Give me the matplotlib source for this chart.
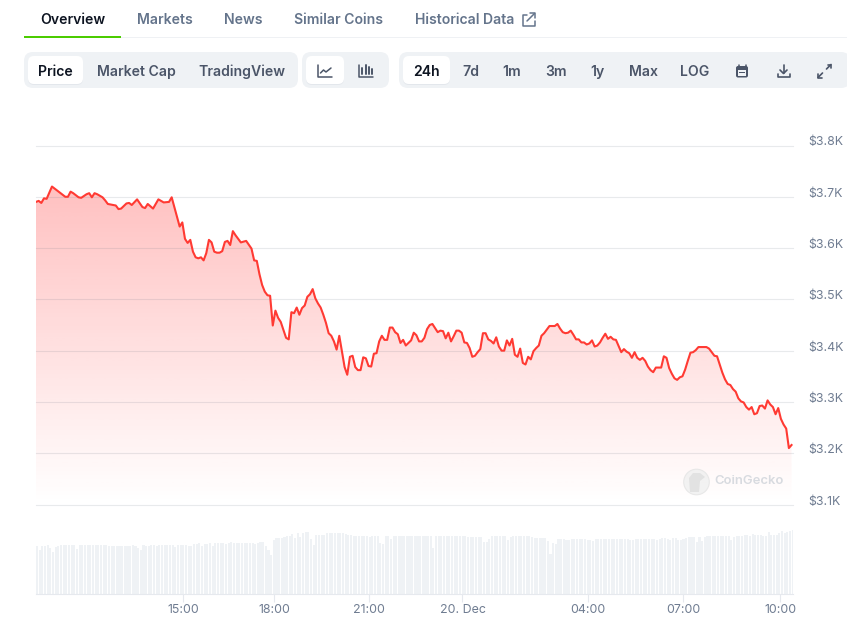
import numpy as np
import matplotlib
import matplotlib.pyplot as plt
from matplotlib.patches import FancyBboxPatch, Circle, Rectangle, Polygon
from matplotlib.transforms import ScaledTranslation

matplotlib.use('Agg')
plt.rcParams['font.family'] = ['Inter', 'DejaVu Sans']

# sample index (one sample = one volume bar) and price in USD
price_idx = [0, 1, 2, 3, 4, 6, 8, 9, 11, 12, 13, 14, 16, 17, 19, 20, 21, 22, 23, 25, 26, 27, 30, 31, 32,
             34, 35, 36, 38, 40, 41, 42, 44, 46, 48, 50, 51, 54, 55, 56, 57, 58, 59, 60, 61, 62, 63, 64,
             65, 66, 67, 68, 69, 70, 71, 72, 73, 74, 75, 77, 79, 81, 82, 83, 84, 85, 86, 87, 88, 89, 90,
             91, 92, 94, 95] + list(range(96, 285))
price_usd = [3690, 3692, 3688, 3697, 3696, 3720, 3712, 3708, 3700, 3700, 3710, 3707, 3699, 3698, 3705,
             3707, 3699, 3707, 3705, 3699, 3693, 3686, 3683, 3676, 3677, 3687, 3688, 3684, 3695, 3680,
             3678, 3686, 3677, 3695, 3689, 3690, 3699, 3642, 3650, 3618, 3610, 3616, 3593, 3582, 3580,
             3582, 3576, 3590, 3616, 3611, 3593, 3591, 3591, 3594, 3612, 3614, 3606, 3633, 3625, 3611,
             3614, 3599, 3576, 3575, 3549, 3528, 3515, 3508, 3507, 3449, 3478, 3464, 3456, 3425, 3422,
             3475, 3473, 3484, 3470, 3483, 3488, 3505, 3510, 3520, 3502, 3492, 3484, 3470, 3454, 3434,
             3429, 3418, 3402, 3429, 3399, 3368, 3353, 3388, 3390, 3368, 3362, 3362, 3387, 3385, 3370,
             3369, 3394, 3395, 3418, 3429, 3421, 3421, 3445, 3445, 3436, 3432, 3415, 3421, 3410, 3415,
             3420, 3435, 3430, 3418, 3418, 3425, 3442, 3450, 3452, 3444, 3436, 3439, 3438, 3424, 3435,
             3418, 3428, 3439, 3439, 3435, 3416, 3415, 3405, 3388, 3390, 3397, 3403, 3434, 3434, 3422,
             3419, 3414, 3426, 3408, 3400, 3400, 3420, 3410, 3423, 3392, 3388, 3404, 3376, 3373, 3388,
             3383, 3399, 3405, 3410, 3429, 3434, 3441, 3448, 3448, 3448, 3452, 3443, 3436, 3434, 3435,
             3439, 3431, 3422, 3422, 3416, 3416, 3412, 3414, 3420, 3408, 3410, 3416, 3425, 3433, 3423,
             3427, 3422, 3421, 3409, 3397, 3403, 3398, 3395, 3386, 3397, 3386, 3382, 3386, 3380, 3369,
             3362, 3358, 3367, 3367, 3367, 3389, 3386, 3366, 3355, 3346, 3343, 3348, 3350, 3363, 3380,
             3396, 3397, 3401, 3407, 3407, 3407, 3407, 3404, 3397, 3390, 3389, 3373, 3357, 3344, 3335,
             3333, 3325, 3320, 3307, 3301, 3299, 3290, 3285, 3290, 3276, 3278, 3292, 3293, 3287, 3303,
             3295, 3290, 3276, 3288, 3267, 3256, 3248, 3210, 3216]

# volume bar heights, relative units
volume = [145, 133, 145, 145, 148, 139, 127, 142, 143, 148, 146, 148, 148, 148, 148, 136, 148, 148, 148,
          148, 148, 148, 148, 146, 148, 148, 146, 145, 143, 145, 145, 145, 145, 145, 145, 145, 148, 145,
          139, 133, 147, 145, 145, 148, 148, 145, 148, 148, 148, 148, 148, 148, 142, 148, 148, 148, 148,
          145, 145, 151, 151, 153, 145, 151, 151, 153, 145, 154, 154, 154, 154, 151, 153, 156, 154, 154,
          154, 154, 154, 154, 154, 154, 151, 153, 157, 157, 145, 133, 118, 163, 168, 167, 169, 172, 175,
          175, 181, 169, 184, 172, 184, 185, 186, 166, 148, 178, 176, 176, 178, 184, 184, 184, 184, 184,
          182, 182, 179, 178, 178, 175, 175, 175, 175, 175, 175, 172, 173, 175, 175, 154, 151, 175, 175,
          166, 175, 175, 175, 175, 173, 175, 173, 175, 173, 173, 173, 173, 175, 175, 175, 139, 175, 173,
          173, 173, 173, 173, 173, 173, 173, 173, 173, 173, 171, 171, 171, 171, 171, 171, 157, 157, 166,
          173, 173, 173, 173, 173, 173, 163, 171, 173, 173, 175, 173, 173, 173, 173, 171, 169, 169, 169,
          169, 169, 160, 121, 153, 151, 166, 166, 166, 163, 163, 164, 166, 166, 166, 166, 166, 163, 163,
          160, 166, 166, 166, 166, 166, 166, 166, 166, 166, 166, 166, 166, 166, 163, 161, 166, 166, 166,
          166, 166, 166, 166, 166, 163, 166, 169, 169, 166, 161, 169, 169, 161, 163, 166, 169, 172, 172,
          172, 157, 172, 160, 172, 175, 175, 175, 175, 175, 175, 175, 175, 175, 163, 171, 173, 175, 175,
          178, 178, 175, 181, 178, 178, 177, 175, 175, 186, 176, 176, 178, 183, 188, 183, 185, 190, 193]

price_ticks = [3100, 3200, 3300, 3400, 3500, 3600, 3700, 3800]
price_labels = ['$3.1K', '$3.2K', '$3.3K', '$3.4K', '$3.5K', '$3.6K', '$3.7K', '$3.8K']
time_ticks = [55.4, 89.6, 125.3, 160.3, 207.6, 243.3, 279.7]
time_labels = ['15:00', '18:00', '21:00', '20. Dec', '04:00', '07:00', '10:00']

tabs = ['Overview', 'Markets', 'News', 'Similar Coins', 'Historical Data']
tab_x = [40.5, 137, 224, 294, 415]
chart_types = ['Price', 'Market Cap', 'TradingView']
chart_type_x = [55.5, 136, 241.5]
ranges = ['24h', '7d', '1m', '3m', '1y', 'Max', 'LOG']
range_x = [426.5, 471, 512, 556, 597, 643, 695]

W, H = 847, 625
DARK = '#0d1421'
SLATE = '#4b5568'
TAB = '#64748b'
AXIS_TEXT = '#6f7c91'
PILL = '#eff2f5'


def pixel_axes(fig, left, top, right, bottom):
    return fig.add_axes([left / W, 1 - bottom / H, (right - left) / W, (bottom - top) / H])


fig = plt.figure(figsize=(W / 100, H / 100), dpi=100, facecolor='white')

# price chart
ax = pixel_axes(fig, 36, 145.5, 792.6, 504.5)
ax.set_xlim(0, 284.4)
ax.set_ylim(3100, 3800)
for s in ax.spines.values():
    s.set_visible(False)
ax.set_yticks(price_ticks, price_labels)
ax.yaxis.tick_right()
ax.tick_params(axis='y', length=0, pad=11, labelsize=8.9, labelcolor=AXIS_TEXT)
# labels sit a few pixels above their grid lines
for lab in ax.get_yticklabels():
    lab.set_transform(lab.get_transform() + ScaledTranslation(0, 4.5 / 100, fig.dpi_scale_trans))
ax.set_xticks([])
for v in price_ticks:
    ax.axhline(v, color='#6b7280', alpha=0.15, lw=0.8, zorder=3, clip_on=False)

# fill under the line fades from light red to nothing
grad = np.zeros((256, 1, 4))
grad[:, :, 0] = 1.0
grad[:, :, 1] = 0.2
grad[:, :, 2] = 0.2
grad[:, 0, 3] = np.linspace(0.31, 0.0, 256)
img = ax.imshow(grad, extent=[0, 284.4, 3100, 3725], origin='upper', aspect='auto', zorder=1)
area = Polygon(list(zip(price_idx, price_usd)) + [(price_idx[-1], 3100), (price_idx[0], 3100)],
               closed=True, transform=ax.transData, facecolor='none', edgecolor='none')
ax.add_patch(area)
img.set_clip_path(area)
ax.set_xlim(0, 284.4)
ax.set_ylim(3100, 3800)
ax.plot(price_idx, price_usd, color='#ff3a33', lw=1.5, zorder=4, solid_joinstyle='round')

# volume bars
vax = pixel_axes(fig, 36, 520, 792.6, 594.3)
vax.set_xlim(0, 284.4)
vax.set_ylim(0, 222)
vax.bar(np.arange(len(volume)) + 0.4, volume, width=0.78, color='#eff2f5', linewidth=0)
for s in ['top', 'left', 'right']:
    vax.spines[s].set_visible(False)
vax.spines['bottom'].set_color('#e6e9ee')
vax.spines['bottom'].set_linewidth(0.8)
vax.set_yticks([])
vax.set_xticks(time_ticks, time_labels)
vax.tick_params(axis='x', length=6, width=0.8, color='#e6e9ee', pad=1.2, labelsize=8.9, labelcolor=AXIS_TEXT)

# page furniture on top, in pixel coordinates
ui = fig.add_axes([0, 0, 1, 1], zorder=10)
ui.set_xlim(0, W)
ui.set_ylim(H, 0)
ui.axis('off')
ui.patch.set_alpha(0)


def pill(x0, y0, x1, y1, color, r=7, shadow=False):
    if shadow:
        ui.add_patch(FancyBboxPatch((x0, y0 + 1), x1 - x0, y1 - y0, boxstyle=f'round,pad=0,rounding_size={r}',
                                    fc='#dfe3e9', ec='none', alpha=0.7))
    ui.add_patch(FancyBboxPatch((x0, y0), x1 - x0, y1 - y0, boxstyle=f'round,pad=0,rounding_size={r}',
                                fc=color, ec='none'))


def stroke(xs, ys, color=SLATE, lw=1.1):
    ui.plot(xs, ys, color=color, lw=lw, solid_capstyle='round', solid_joinstyle='round')


# tab row
for i in range(len(tabs)):
    ui.text(tab_x[i], 19.6, tabs[i], fontsize=10.1, fontweight='semibold', va='center', ha='left',
            color=DARK if i == 0 else TAB)
ui.add_patch(Rectangle((24, 37.3), W - 24, 1, fc='#eff1f4', ec='none'))
ui.add_patch(Rectangle((24, 36), 97, 2, fc='#4bcc00', ec='none'))
# external link icon
stroke([527, 522.5, 522.5, 534.5, 534.5], [14.5, 14.5, 26, 26, 21], TAB, 1.1)
stroke([527, 534.5], [21, 13.5], TAB, 1.1)
stroke([530, 534.7, 534.7], [13.3, 13.3, 18], TAB, 1.1)

# button groups
pill(24, 52, 298, 88, PILL, 9)
pill(302, 52, 389, 88, PILL, 9)
pill(399, 52, 850, 88, PILL, 9)
pill(28, 56, 83, 84, 'white', 6, True)
pill(306, 56, 344, 84, 'white', 6, True)
pill(403, 56, 450, 84, 'white', 6, True)
for i in range(len(chart_types)):
    ui.text(chart_type_x[i], 71.6, chart_types[i], fontsize=10.1, fontweight='semibold', ha='center', va='center',
            color=DARK if i == 0 else SLATE)
for i in range(len(ranges)):
    ui.text(range_x[i], 71.6, ranges[i], fontsize=10.1, fontweight='semibold', ha='center', va='center',
            color=DARK if i == 0 else SLATE)

# line and candle icons
stroke([318, 318, 332], [65, 76.5, 76.5], SLATE, 1.1)
stroke([320.5, 323.5, 326, 331], [73, 70, 72, 68], SLATE, 1.1)
stroke([359, 359, 373], [65, 76.5, 76.5], SLATE, 1.1)
for x0, y0, y1 in [(362, 68, 74), (365.5, 65, 74), (369, 67, 74), (372, 69, 74)]:
    stroke([x0, x0], [y0, y1], SLATE, 1.4)

# calendar, download, fullscreen icons
pill(736, 66, 748, 77.5, SLATE, 2)
ui.add_patch(Rectangle((738, 70), 8, 5.6, fc=PILL, ec='none'))
ui.add_patch(Rectangle((739, 72), 6, 1.4, fc=SLATE, ec='none'))
stroke([738.5, 738.5], [64.5, 66.5], SLATE, 1.1)
stroke([745.5, 745.5], [64.5, 66.5], SLATE, 1.1)
stroke([783.5, 783.5], [65, 73], SLATE, 1.2)
stroke([780, 783.5, 787], [70, 73.5, 70], SLATE, 1.2)
stroke([777.5, 777.5, 789.5, 789.5], [73.5, 77, 77, 73.5], SLATE, 1.2)
stroke([818, 822.5], [77.5, 73], SLATE, 1.2)
stroke([826.5, 831], [69, 64.5], SLATE, 1.2)
stroke([818, 818, 821.5], [73.5, 77.5, 77.5], SLATE, 1.2)
stroke([827.5, 831, 831], [64.5, 64.5, 68], SLATE, 1.2)

# CoinGecko watermark
ui.add_patch(Circle((696.5, 482), 12.8, fc='#f1f1f1', ec='#e6e6e6', lw=0.8, alpha=0.9))
ui.add_patch(Polygon([(690, 492), (689, 478), (693, 473), (700, 473), (705, 477), (700, 481), (699, 492)],
                     closed=True, fc='#e2e2e2', ec='none'))
ui.text(714.5, 481.5, 'CoinGecko', fontsize=9.4, fontweight='semibold', color='#d8dbe0', va='center', ha='left')

fig.savefig('out.png', dpi=100)
